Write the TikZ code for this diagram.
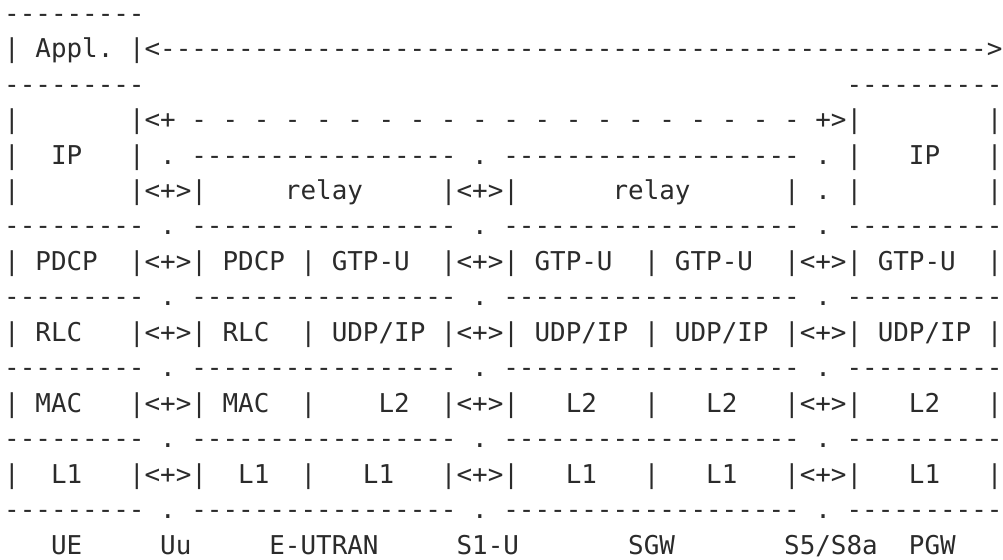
\documentclass[tikz,border=0pt]{standalone}
\usepackage{fontspec}
\setmonofont{DejaVu Sans Mono}
\definecolor{ink}{HTML}{2B2B2B}
\tikzset{
  txt/.style={anchor=base west, inner sep=0pt, outer sep=0pt, text=ink,
    font=\ttfamily\fontsize{25.91pt}{30pt}\selectfont}
}
\newcommand\T[3]{\node[txt] (r#1c#2) at (#2,#1) {#3};}
\begin{document}
\begin{tikzpicture}[x=15.6pt,y=-35.5pt]
\useasboundingbox (-0.27,-0.62) rectangle (64.03,15.13);
% row 0
\T{0}{0}{---------}
% row 1
\T{1}{0}{|}
\T{1}{2}{Appl.}
\T{1}{8}{|<-----------------------------------------------------{}>}
% row 2
\T{2}{0}{---------}
\T{2}{54}{----------}
% row 3
\T{3}{0}{|}
\T{3}{8}{|<+}
\foreach \c in {12,14,...,50}{\T{3}{\c}{-}}
\T{3}{52}{+>|}
\T{3}{63}{|}
% row 4
\T{4}{0}{|}
\T{4}{3}{IP}
\T{4}{8}{|}
\T{4}{10}{.}
\T{4}{12}{-----------------}
\T{4}{30}{.}
\T{4}{32}{-------------------}
\T{4}{52}{.}
\T{4}{54}{|}
\T{4}{58}{IP}
\T{4}{63}{|}
% row 5
\T{5}{0}{|}
\T{5}{8}{|<+>|}
\T{5}{18}{relay}
\T{5}{28}{|<+>|}
\T{5}{39}{relay}
\T{5}{50}{|}
\T{5}{52}{.}
\T{5}{54}{|}
\T{5}{63}{|}
% separator rows
\foreach \r in {6,8,10,12,14}{
  \T{\r}{0}{---------}
  \T{\r}{10}{.}
  \T{\r}{12}{-----------------}
  \T{\r}{30}{.}
  \T{\r}{32}{-------------------}
  \T{\r}{52}{.}
  \T{\r}{54}{----------}
}
% row 7
\T{7}{0}{|}
\T{7}{2}{PDCP}
\T{7}{8}{|<+>|}
\T{7}{14}{PDCP}
\T{7}{19}{|}
\T{7}{21}{GTP-U}
\T{7}{28}{|<+>|}
\T{7}{34}{GTP-U}
\T{7}{41}{|}
\T{7}{43}{GTP-U}
\T{7}{50}{|<+>|}
\T{7}{56}{GTP-U}
\T{7}{63}{|}
% row 9
\T{9}{0}{|}
\T{9}{2}{RLC}
\T{9}{8}{|<+>|}
\T{9}{14}{RLC}
\T{9}{19}{|}
\T{9}{21}{UDP/IP}
\T{9}{28}{|<+>|}
\T{9}{34}{UDP/IP}
\T{9}{41}{|}
\T{9}{43}{UDP/IP}
\T{9}{50}{|<+>|}
\T{9}{56}{UDP/IP}
\T{9}{63}{|}
% row 11
\T{11}{0}{|}
\T{11}{2}{MAC}
\T{11}{8}{|<+>|}
\T{11}{14}{MAC}
\T{11}{19}{|}
\T{11}{24}{L2}
\T{11}{28}{|<+>|}
\T{11}{36}{L2}
\T{11}{41}{|}
\T{11}{45}{L2}
\T{11}{50}{|<+>|}
\T{11}{58}{L2}
\T{11}{63}{|}
% row 13
\T{13}{0}{|}
\T{13}{3}{L1}
\T{13}{8}{|<+>|}
\T{13}{15}{L1}
\T{13}{19}{|}
\T{13}{23}{L1}
\T{13}{28}{|<+>|}
\T{13}{36}{L1}
\T{13}{41}{|}
\T{13}{45}{L1}
\T{13}{50}{|<+>|}
\T{13}{58}{L1}
\T{13}{63}{|}
% row 15 labels
\T{15}{3}{UE}
\T{15}{10}{Uu}
\T{15}{17}{E-UTRAN}
\T{15}{29}{S1-U}
\T{15}{40}{SGW}
\T{15}{50}{S5/S8a}
\T{15}{58}{PGW}
\end{tikzpicture}
\end{document}
